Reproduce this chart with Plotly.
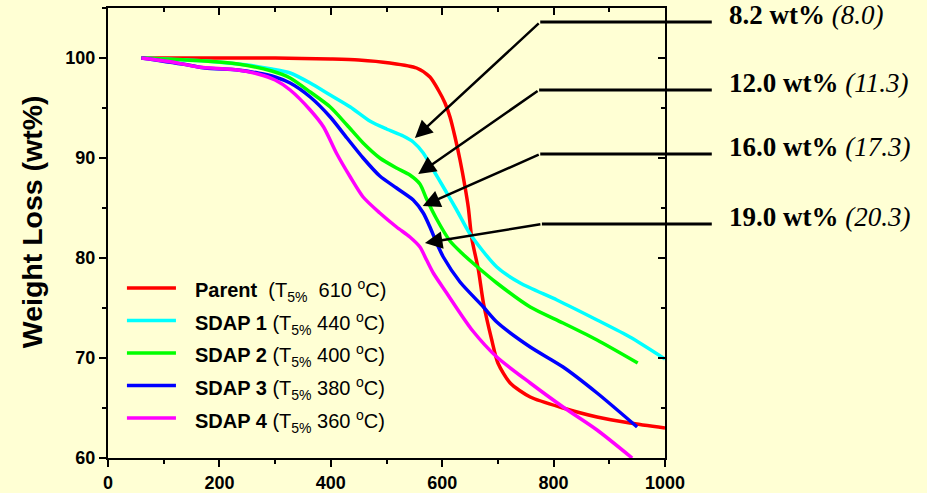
import plotly.graph_objects as go

# ---------------- data ----------------
parent_x = [60, 200, 300, 400, 450, 506, 554, 578, 593, 605, 614, 623, 632, 641, 647, 653, 665, 674, 689, 700, 722, 758, 817, 878, 937, 1000]
parent_y = [100, 100, 100, 99.9, 99.8, 99.5, 99.0, 98.1, 96.8, 95.5, 94.1, 92.1, 89.8, 87.1, 85.0, 82.0, 78.8, 75.5, 71.8, 69.5, 67.5, 66.1, 65.0, 64.1, 63.5, 63.0]

sdap1_x = [60, 174, 250, 294, 327, 363, 399, 435, 470, 500, 530, 548, 566, 584, 602, 626, 650, 698, 740, 806, 878, 937, 1000]
sdap1_y = [100, 99.7, 99.3, 98.9, 98.5, 97.5, 96.3, 95.1, 93.7, 92.9, 92.2, 91.6, 90.5, 88.8, 87.1, 84.8, 82.4, 79.1, 77.5, 75.8, 73.8, 72.1, 69.9]

sdap2_x = [60, 174, 233, 294, 327, 363, 399, 429, 458, 488, 518, 542, 560, 572, 590, 614, 635, 655, 698, 758, 817, 878, 951]
sdap2_y = [100, 99.7, 99.4, 98.7, 98.0, 96.6, 95.1, 93.3, 91.5, 90.0, 89.0, 88.3, 87.4, 85.9, 83.9, 81.7, 80.5, 79.5, 77.5, 75.1, 73.5, 71.8, 69.5]

sdap3_x = [60, 144, 174, 233, 269, 300, 327, 363, 399, 429, 458, 488, 518, 548, 566, 578, 590, 602, 632, 674, 698, 758, 817, 878, 950]
sdap3_y = [100, 99.3, 99.0, 98.8, 98.5, 98.1, 97.5, 96.1, 94.1, 92.0, 90.0, 88.2, 87.0, 85.8, 84.5, 83.1, 81.5, 80.1, 77.6, 75.1, 73.6, 71.1, 69.1, 66.5, 63.1]

sdap4_x = [60, 115, 162, 233, 269, 300, 327, 363, 387, 410, 435, 458, 488, 518, 542, 560, 572, 584, 608, 632, 655, 698, 758, 817, 878, 941]
sdap4_y = [100, 99.6, 99.1, 98.8, 98.4, 97.8, 96.8, 94.8, 93.1, 90.5, 88.1, 86.1, 84.5, 83.1, 82.1, 81.1, 79.8, 78.5, 76.5, 74.5, 72.7, 70.1, 67.5, 65.1, 62.8, 60.0]

series_names = ["Parent", "SDAP 1", "SDAP 2", "SDAP 3", "SDAP 4"]
t5_values = [610, 440, 400, 380, 360]
series_colors = ["#FF0000", "#00FFFF", "#00FF00", "#0000FF", "#FF00FF"]
series_x = [parent_x, sdap1_x, sdap2_x, sdap3_x, sdap4_x]
series_y = [parent_y, sdap1_y, sdap2_y, sdap3_y, sdap4_y]

# callouts: label, value in parentheses, arrow tip (data), elbow (data)
callout_labels = ["8.2 wt%", "12.0 wt%", "16.0 wt%", "19.0 wt%"]
callout_paren = ["(8.0)", "(11.3)", "(17.3)", "(20.3)"]
tip_x = [551, 557, 565, 569]
tip_y = [92.0, 88.4, 85.2, 81.5]
elbow_x = [776, 774, 776, 779]
elbow_y = [103.6, 96.8, 90.4, 83.4]

x_ticks = [0, 200, 400, 600, 800, 1000]
y_ticks = [60, 70, 80, 90, 100]
y_title = "Weight Loss (wt%)"

XR = [0, 1000]
YR = [60, 105]
BG = "#FFFFD4"
SANS = "Liberation Sans, Arial, sans-serif"
SERIF = "Liberation Serif, Times New Roman, serif"

fig = go.Figure()
for xs, ys, c in zip(series_x, series_y, series_colors):
    fig.add_trace(go.Scatter(x=xs, y=ys, mode="lines",
                             line=dict(color=c, width=3.5, shape="spline", smoothing=0.7),
                             showlegend=False, hoverinfo="skip"))
# helper trace so the mirrored (top/right) axes are drawn
fig.add_trace(go.Scatter(x=[], y=[], xaxis="x2", yaxis="y2", showlegend=False, hoverinfo="skip"))


def px(xd):
    return (xd - XR[0]) / (XR[1] - XR[0])


def py(yd):
    return (yd - YR[0]) / (YR[1] - YR[0])


shapes = []
annotations = []

# y-axis title (as rotated annotation for exact placement)
annotations.append(dict(text=f"<b>{y_title}</b>", xref="paper", yref="paper", x=-0.1364, y=0.524,
                        xanchor="center", yanchor="middle", textangle=-90, showarrow=False,
                        font=dict(family=SANS, size=28.5, color="black")))

# manual legend
for i, (nm, t5, c) in enumerate(zip(series_names, t5_values, series_colors)):
    ypaper = 0.378 - i * 0.0723
    shapes.append(dict(type="line", xref="paper", yref="paper", x0=0.034, x1=0.122,
                       y0=ypaper, y1=ypaper, line=dict(color=c, width=3.5)))
    sep = "\u00a0 " if nm == "Parent" else " "
    txt = f"<b>{nm}</b>{sep}(T<sub>5%</sub>{sep}{t5} <sup>o</sup>C)"
    annotations.append(dict(text=txt, xref="paper", yref="paper", x=0.1526, y=ypaper,
                            xanchor="left", yanchor="middle", showarrow=False, yshift=-3,
                            font=dict(family=SANS, size=20, color="black")))

# callouts
for lab, par, tx, ty, ex, ey in zip(callout_labels, callout_paren, tip_x, tip_y, elbow_x, elbow_y):
    annotations.append(dict(x=tx, y=ty, ax=ex, ay=ey, xref="x", yref="y", axref="x", ayref="y",
                            text="", showarrow=True, arrowhead=2, arrowsize=1.4, arrowwidth=2.5,
                            arrowcolor="black", standoff=0))
    shapes.append(dict(type="line", xref="paper", yref="paper", x0=px(ex), x1=1.084,
                       y0=py(ey), y1=py(ey), line=dict(color="black", width=3)))
    annotations.append(dict(text=f"<b>{lab}</b> <i>{par}</i>", xref="paper", yref="paper",
                            x=1.111, y=py(ey), xanchor="left", yanchor="middle", yshift=7,
                            showarrow=False, font=dict(family=SERIF, size=27, color="black")))

axis_common = dict(showgrid=False, zeroline=False, showline=True, linewidth=2, linecolor="black",
                   tickwidth=2, tickcolor="black", automargin=False)

fig.update_layout(
    width=927, height=493,
    margin=dict(l=108, r=262, t=8, b=35),
    paper_bgcolor=BG, plot_bgcolor=BG,
    showlegend=False,
    hovermode=False,
    xaxis=dict(range=XR, tickvals=x_ticks, ticks="outside", ticklen=7,
               tickfont=dict(family=SANS, size=18, color="black", weight="bold"),
               minor=dict(dtick=100, tick0=0, ticks="outside", ticklen=4, tickwidth=2, tickcolor="black", showgrid=False),
               **axis_common),
    yaxis=dict(range=YR, tickvals=y_ticks, ticks="outside", ticklen=7,
               tickfont=dict(family=SANS, size=18, color="black", weight="bold"),
               minor=dict(dtick=5, tick0=60, ticks="outside", ticklen=4, tickwidth=2, tickcolor="black", showgrid=False),
               **axis_common),
    xaxis2=dict(range=XR, overlaying="x", side="top", tickvals=x_ticks, ticks="inside", ticklen=7,
                showticklabels=False,
                minor=dict(dtick=100, tick0=0, ticks="inside", ticklen=4, tickwidth=2, tickcolor="black", showgrid=False),
                **axis_common),
    yaxis2=dict(range=YR, overlaying="y", side="right", tickvals=y_ticks, ticks="inside", ticklen=7,
                showticklabels=False,
                minor=dict(dtick=5, tick0=60, ticks="inside", ticklen=4, tickwidth=2, tickcolor="black", showgrid=False),
                **axis_common),
    shapes=shapes,
    annotations=annotations,
)

fig.write_html("out.html",
               config={"displayModeBar": False, "staticPlot": True},
               post_script="document.body.style.margin='0';document.body.style.overflow='hidden';")
